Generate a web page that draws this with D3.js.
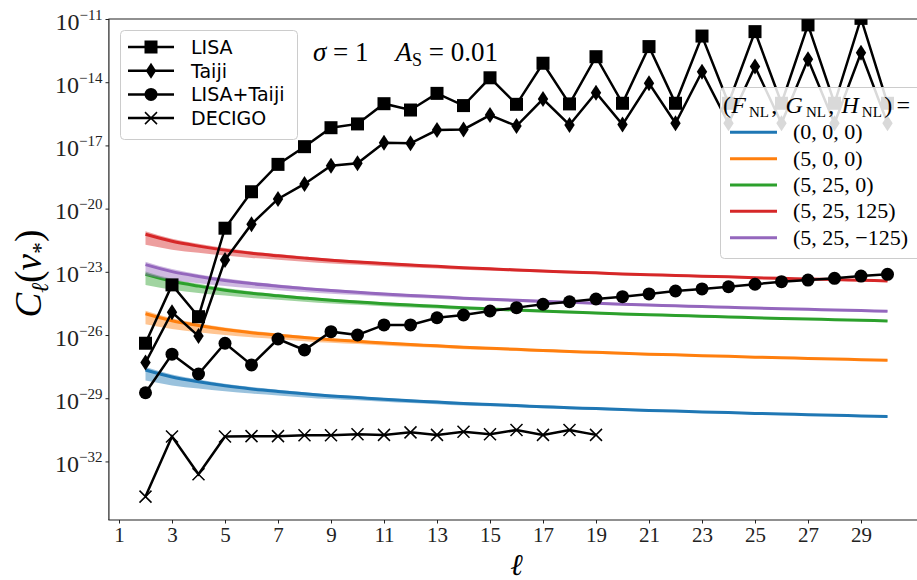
<!DOCTYPE html>
<html><head><meta charset="utf-8">
<script src="https://cdn.jsdelivr.net/npm/d3@7"></script>
<style>body{margin:0;background:#fff}</style>
</head><body><svg id="c" width="917" height="580"></svg>
<script>
// ---------------- data (exponents of 10) ----------------
const ell = [2,3,4,5,6,7,8,9,10,11,12,13,14,15,16,17,18,19,20,21,22,23,24,25,26,27,28,29,30];
const lisaExp = [-26.39,-23.62,-25.13,-20.93,-19.20,-17.90,-17.06,-16.16,-15.98,-15.02,-15.32,-14.53,-15.11,-13.79,-15.05,-13.10,-15.03,-12.79,-15.00,-12.31,-15.00,-11.81,-15.00,-11.60,-15.00,-11.28,-15.00,-10.97,-15.00];
const taijiExp = [-27.31,-24.92,-26.05,-22.44,-20.74,-19.54,-18.83,-17.96,-17.85,-16.87,-16.90,-16.27,-16.24,-15.56,-16.08,-14.80,-16.03,-14.50,-16.01,-14.05,-15.95,-13.50,-15.95,-13.26,-15.95,-12.91,-15.95,-12.60,-15.95];
const comboExp = [-28.74,-26.91,-27.85,-26.39,-27.42,-26.19,-26.71,-25.84,-26.00,-25.52,-25.52,-25.18,-25.05,-24.86,-24.70,-24.54,-24.42,-24.29,-24.18,-24.05,-23.91,-23.81,-23.71,-23.59,-23.47,-23.39,-23.31,-23.20,-23.12];
const decigoEll = [2,3,4,5,6,7,8,9,10,11,12,13,14,15,16,17,18,19];
const decigoExp = [-33.67,-30.82,-32.61,-30.82,-30.80,-30.80,-30.76,-30.76,-30.71,-30.74,-30.62,-30.74,-30.59,-30.71,-30.51,-30.74,-30.51,-30.74];

const fng000 = [-27.66,-27.99,-28.22,-28.41,-28.56,-28.68,-28.79,-28.89,-28.97,-29.05,-29.12,-29.18,-29.25,-29.30,-29.35,-29.40,-29.45,-29.49,-29.54,-29.58,-29.61,-29.65,-29.68,-29.72,-29.75,-29.78,-29.81,-29.84,-29.87];
const fng500 = [-24.99,-25.32,-25.55,-25.74,-25.89,-26.01,-26.12,-26.22,-26.30,-26.38,-26.45,-26.51,-26.58,-26.63,-26.68,-26.73,-26.78,-26.82,-26.87,-26.91,-26.94,-26.98,-27.01,-27.05,-27.08,-27.11,-27.14,-27.17,-27.20];
const fng5250 = [-23.12,-23.45,-23.68,-23.87,-24.02,-24.14,-24.25,-24.35,-24.43,-24.51,-24.58,-24.64,-24.71,-24.76,-24.81,-24.86,-24.91,-24.95,-25.00,-25.04,-25.07,-25.11,-25.14,-25.18,-25.21,-25.24,-25.27,-25.30,-25.33];
const fng525p = [-21.22,-21.55,-21.78,-21.97,-22.12,-22.24,-22.35,-22.45,-22.53,-22.61,-22.68,-22.74,-22.81,-22.86,-22.91,-22.96,-23.01,-23.05,-23.10,-23.14,-23.17,-23.21,-23.24,-23.28,-23.31,-23.34,-23.37,-23.40,-23.43];
const fng525m = [-22.66,-22.99,-23.22,-23.41,-23.56,-23.68,-23.79,-23.89,-23.97,-24.05,-24.12,-24.18,-24.25,-24.30,-24.35,-24.40,-24.45,-24.49,-24.54,-24.58,-24.61,-24.65,-24.68,-24.72,-24.75,-24.78,-24.81,-24.84,-24.87];
// uncertainty band (decades below / above the central curve)
const bandLow = [0.50,0.40,0.32,0.26,0.22,0.19,0.17,0.15,0.13,0.12,0.11,0.10,0.09,0.085,0.08,0.075,0.07,0.065,0.06,0.06,0.055,0.055,0.05,0.05,0.05,0.045,0.045,0.045,0.04];
const bandHigh = [0.14,0.12,0.11,0.10,0.09,0.08,0.075,0.07,0.065,0.06,0.06,0.055,0.055,0.05,0.05,0.05,0.045,0.045,0.045,0.04,0.04,0.04,0.04,0.04,0.04,0.04,0.04,0.04,0.04];

const curveLabels = ["(0, 0, 0)","(5, 0, 0)","(5, 25, 0)","(5, 25, 125)","(5, 25, \u2212125)"];
const curveColors = ["#1f77b4","#ff7f0e","#2ca02c","#d62728","#9467bd"];
const curveData = [fng000, fng500, fng5250, fng525p, fng525m];

const xTicks = [1,3,5,7,9,11,13,15,17,19,21,23,25,27,29];
const yTickExps = [-32,-29,-26,-23,-20,-17,-14,-11];

// ---------------- setup ----------------
const svg = d3.select("#c");
const P = {l:108.4, r:924.6, t:19, b:520};
const x = d3.scaleLinear().domain([0.6,31.4]).range([P.l,P.r]);
const y = d3.scaleLog().domain([Math.pow(10,-34.78),1e-11]).range([P.b,P.t]);
const serif = "'Liberation Serif','DejaVu Serif',serif";
const sans = "'DejaVu Sans',sans-serif";

svg.append("defs").append("clipPath").attr("id","clip")
  .append("rect").attr("x",P.l).attr("y",P.t).attr("width",P.r-P.l).attr("height",P.b-P.t);
const plot = svg.append("g").attr("clip-path","url(#clip)");

// colored curves with bands
curveData.forEach((arr,k)=>{
  const pts = ell.map((l,i)=>({l, v:arr[i], lo:arr[i]-bandLow[i], hi:arr[i]+bandHigh[i]}));
  plot.append("path").datum(pts)
    .attr("d", d3.area().x(d=>x(d.l)).y0(d=>y(Math.pow(10,d.lo))).y1(d=>y(Math.pow(10,d.hi))).curve(d3.curveMonotoneX))
    .attr("fill", curveColors[k]).attr("fill-opacity",0.45).attr("stroke","none");
  plot.append("path").datum(pts)
    .attr("d", d3.line().x(d=>x(d.l)).y(d=>y(Math.pow(10,d.v))).curve(d3.curveMonotoneX))
    .attr("fill","none").attr("stroke",curveColors[k]).attr("stroke-width",3);
});

// marker drawing
function marker(g, type, cx, cy){
  if(type==="square"){
    g.append("rect").attr("x",cx-6.5).attr("y",cy-6.5).attr("width",13).attr("height",13).attr("fill","#000");
  } else if(type==="diamond"){
    g.append("path").attr("d",`M${cx},${cy-8}L${cx+5.2},${cy}L${cx},${cy+8}L${cx-5.2},${cy}Z`).attr("fill","#000");
  } else if(type==="circle"){
    g.append("circle").attr("cx",cx).attr("cy",cy).attr("r",6.5).attr("fill","#000");
  } else {
    g.append("path").attr("d",`M${cx-6},${cy-6}L${cx+6},${cy+6}M${cx-6},${cy+6}L${cx+6},${cy-6}`)
      .attr("stroke","#000").attr("stroke-width",1.5).attr("fill","none");
  }
}
const black = [
  {name:"LISA", ls:ell, vs:lisaExp, m:"square"},
  {name:"Taiji", ls:ell, vs:taijiExp, m:"diamond"},
  {name:"LISA+Taiji", ls:ell, vs:comboExp, m:"circle"},
  {name:"DECIGO", ls:decigoEll, vs:decigoExp, m:"x"}
];
black.forEach(s=>{
  const pts = s.ls.map((l,i)=>[x(l), y(Math.pow(10,s.vs[i]))]);
  plot.append("path").attr("d", d3.line()(pts)).attr("fill","none").attr("stroke","#000").attr("stroke-width",2.5).attr("stroke-linejoin","miter");
  const mg = plot.append("g");
  pts.forEach(p=>marker(mg, s.m, p[0], p[1]));
});

// ---------------- axes ----------------
const xAxis = svg.append("g").attr("transform",`translate(0,${P.b})`)
  .call(d3.axisBottom(x).tickValues(xTicks).tickSize(3.5).tickSizeOuter(0).tickPadding(4));
xAxis.select(".domain").remove();
xAxis.selectAll("line").attr("stroke","#222");
xAxis.selectAll("text").attr("font-family",serif).attr("font-size",21).attr("fill","#222");

const yAxis = svg.append("g").attr("transform",`translate(${P.l+0.6},0)`)
  .call(d3.axisLeft(y).tickValues(yTickExps.map(e=>Math.pow(10,e))).tickSize(3.5).tickSizeOuter(0).tickPadding(3));
yAxis.select(".domain").remove();
yAxis.selectAll("line").attr("stroke","#222");
yAxis.selectAll("text").each(function(d,i){
  const t = d3.select(this);
  const e = yTickExps[i];
  t.text(null).attr("font-family",serif).attr("font-size",24).attr("fill","#222").attr("dy","0.42em");
  t.append("tspan").text("10");
  t.append("tspan").attr("font-size",15).attr("dy",-10).text("\u2212"+Math.abs(e));
});

// spines
svg.append("line").attr("x1",P.l+0.5).attr("x2",P.l+0.5).attr("y1",P.t).attr("y2",P.b).attr("stroke","#222").attr("stroke-width",1.2);
svg.append("line").attr("x1",P.l).attr("x2",P.r).attr("y1",P.b).attr("y2",P.b).attr("stroke","#222").attr("stroke-width",1.2);
svg.append("line").attr("x1",P.l).attr("x2",P.r).attr("y1",P.t).attr("y2",P.t).attr("stroke","#222").attr("stroke-width",1.2);

// axis labels
svg.append("text").attr("x",(P.l+P.r)/2).attr("y",575).attr("text-anchor","middle")
  .attr("font-family",serif).attr("font-style","italic").attr("font-size",30).text("\u2113");
const yl = svg.append("text").attr("transform",`translate(41,${(P.t+P.b)/2+4}) rotate(-90)`).attr("text-anchor","middle")
  .attr("font-family",serif).attr("font-size",37);
yl.append("tspan").attr("font-style","italic").text("C");
yl.append("tspan").attr("font-style","italic").attr("font-size",24).attr("dy",7).text("\u2113");
yl.append("tspan").attr("dy",-7).text("(");
yl.append("tspan").attr("font-style","italic").text("\u03bd");
yl.append("tspan").attr("font-size",24).attr("dy",7).text("*");
yl.append("tspan").attr("dy",-7).text(")");

// annotation
const ann = svg.append("text").attr("x",313).attr("y",61).attr("font-family",serif).attr("font-size",27);
ann.append("tspan").attr("font-style","italic").text("\u03c3");
ann.append("tspan").text(" = 1");
ann.append("tspan").attr("dx",27).attr("font-style","italic").text("A");
ann.append("tspan").attr("font-size",18).attr("dy",5).text("S");
ann.append("tspan").attr("dy",-5).text(" = 0.01");

// ---------------- legend 1 ----------------
const lg1 = svg.append("g");
lg1.append("rect").attr("x",120.5).attr("y",30.5).attr("width",177).attr("height",109).attr("rx",4)
  .attr("fill","#fff").attr("fill-opacity",0.8).attr("stroke","#ccc");
black.forEach((s,i)=>{
  const yy = 47 + i*23.7;
  lg1.append("line").attr("x1",128).attr("x2",174).attr("y1",yy).attr("y2",yy).attr("stroke","#000").attr("stroke-width",2.5);
  marker(lg1, s.m, 151, yy);
  lg1.append("text").attr("x",191).attr("y",yy+7).attr("font-family",sans).attr("font-size",19).text(s.name);
});

// ---------------- legend 2 ----------------
const lg2 = svg.append("g");
lg2.append("rect").attr("x",720.5).attr("y",87.5).attr("width",230).attr("height",171).attr("rx",4)
  .attr("fill","#fff").attr("fill-opacity",0.85).attr("stroke","#ccc");
// title built from separate pieces laid out left to right
const titleParts = [
  {t:"(", it:false, sub:false},
  {t:"F", it:true, sub:false},
  {t:"NL", it:false, sub:true},
  {t:",", it:false, sub:false, gap:2},
  {t:"G", it:true, sub:false, gap:8},
  {t:"NL", it:false, sub:true},
  {t:",", it:false, sub:false, gap:2},
  {t:"H", it:true, sub:false, gap:7},
  {t:"NL", it:false, sub:true},
  {t:")", it:false, sub:false, gap:2},
  {t:"=", it:false, sub:false, gap:4}
];
let cx = 723;
titleParts.forEach(p=>{
  cx += (p.gap||0) + (p.sub?1.5:0);
  const el = lg2.append("text").attr("x",cx).attr("y",p.sub?117:113)
    .attr("font-family",serif).attr("font-size",p.sub?15:24)
    .attr("font-style",p.it?"italic":"normal").text(p.t);
  cx += el.node().getComputedTextLength() + (p.it?1.5:0.3);
});
curveLabels.forEach((lab,i)=>{
  const yy = 132.3 + i*26.35;
  lg2.append("line").attr("x1",730).attr("x2",777).attr("y1",yy).attr("y2",yy).attr("stroke",curveColors[i]).attr("stroke-width",3);
  lg2.append("text").attr("x",793).attr("y",yy+7).attr("font-family",serif).attr("font-size",22).text(lab);
});
</script></body></html>
